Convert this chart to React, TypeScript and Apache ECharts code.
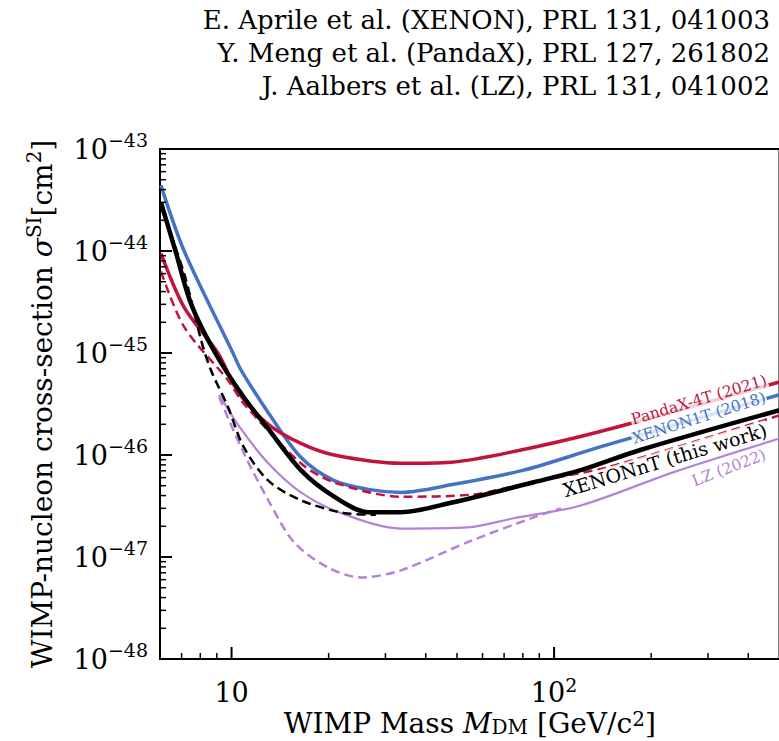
import React, { useEffect, useRef } from 'react';
import * as echarts from 'echarts';

// y values are plotted in units of 1e-46 cm^2 (log axis), labels convert back
const UNIT = 1e-46;
const UNIT_EXP = -46;

const X_MIN = 6;
const X_MAX = 500;
const Y_MIN = 1e-48;
const Y_MAX = 1e-43;

// XENONnT (this work) – black solid
const xenonntMass = [6.04, 6.7, 7.5, 8.9, 10.9, 13.0, 16.4, 20.8, 26.5, 33.5, 47.9, 86.5, 121, 185, 500];
const xenonntSigma = [3.0e-44, 1.0e-44, 3.0e-45, 1.0e-45, 3.7e-46, 1.8e-46, 7.1e-47, 3.9e-47, 2.75e-47, 2.75e-47, 3.4e-47, 5.4e-47, 7.1e-47, 1.12e-46, 2.75e-46];

// XENONnT sensitivity – black dashed
const xenonntDashMass = [6.04, 7.13, 8.04, 8.63, 9.75, 10.9, 13.0, 16.4, 22.3, 28];
const xenonntDashSigma = [2.7e-44, 6.0e-45, 1.35e-45, 6.8e-46, 2.95e-46, 1.2e-46, 5.6e-47, 3.6e-47, 2.7e-47, 2.6e-47];

// XENON1T (2018) – blue
const xenon1tMass = [6.04, 7.13, 10.1, 10.7, 13.0, 16.4, 20.8, 26.5, 33.5, 47.9, 80.5, 139, 500];
const xenon1tSigma = [4.4e-44, 1.0e-44, 1.0e-45, 6.8e-46, 2.6e-46, 9.5e-47, 5.6e-47, 4.6e-47, 4.3e-47, 5.1e-47, 7.1e-47, 1.2e-46, 3.9e-46];

// PandaX-4T (2021) – red solid
const pandaxMass = [6.04, 7.13, 9.07, 10.5, 13.0, 16.4, 20.8, 33.5, 47.9, 71.8, 139, 500];
const pandaxSigma = [9.5e-45, 2.8e-45, 1.0e-45, 4.1e-46, 2.0e-46, 1.3e-46, 1.0e-46, 8.3e-47, 8.5e-47, 1.05e-46, 1.7e-46, 5.2e-46];

// red dashed
const pandaxDashMass = [6.04, 7.13, 9.75, 10.9, 16.4, 20.8, 33.5, 56, 86.5, 147, 500];
const pandaxDashSigma = [6.3e-45, 1.8e-45, 5.4e-46, 3.2e-46, 8.3e-47, 5.4e-47, 3.9e-47, 4.1e-47, 5.5e-47, 7.6e-47, 2.45e-46];

// LZ (2022) – purple solid
const lzMass = [9.15, 10.7, 13.0, 16.4, 21.8, 33.5, 54, 75, 121, 235, 500];
const lzSigma = [3.9e-46, 1.8e-46, 8.3e-47, 4.3e-47, 2.7e-47, 1.9e-47, 1.95e-47, 2.4e-47, 3.2e-47, 6.8e-47, 1.45e-46];

// LZ – purple dashed
const lzDashMass = [9.15, 10.9, 13.0, 15.6, 19.9, 25.2, 33.5, 54, 86.5, 105];
const lzDashSigma = [3.7e-46, 1.05e-46, 3.6e-47, 1.4e-47, 7.9e-48, 6.3e-48, 7.4e-48, 1.4e-47, 2.45e-47, 3.0e-47];

const xMajorTicks = [10, 100];
const xMinorTicks = [7, 8, 9, 20, 30, 40, 50, 60, 70, 80, 90, 200, 300, 400];
const yDecades = [-48, -47, -46, -45, -44, -43];

const headerLines = [
  'E. Aprile et al. (XENON), PRL 131, 041003',
  'Y. Meng et al. (PandaX), PRL 127, 261802',
  'J. Aalbers et al. (LZ), PRL 131, 041002',
];

const RED = '#C0143F';
const BLUE = '#4472C4';
const PURPLE = '#B482D8';
const BLACK = '#000000';
const FONT = 'DejaVu Serif';

const toSeries = (m: number[], s: number[]) => m.map((v, i) => [v, s[i] / UNIT]);

export default function App() {
  const ref = useRef<HTMLDivElement>(null);
  useEffect(() => {
    if (!ref.current) return;
    const chart = echarts.init(ref.current, undefined, { renderer: 'svg' });

    const xTickData = [
      ...xMajorTicks.map((v) => [v, Y_MIN / UNIT, 1]),
      ...xMinorTicks.map((v) => [v, Y_MIN / UNIT, 0]),
    ];
    const yTickData: number[][] = [];
    yDecades.forEach((d) => {
      for (let k = 1; k <= 9; k++) {
        const v = k * Math.pow(10, d);
        if (v > Y_MAX * 1.0001) break;
        yTickData.push([X_MIN, v / UNIT, k === 1 ? 1 : 0]);
      }
    });

    const line = (name: string, data: number[][], color: string, width: number, dashed: boolean, z: number) => ({
      type: 'line',
      name,
      data,
      showSymbol: false,
      symbol: 'none',
      smooth: 0.3,
      clip: true,
      z,
      silent: true,
      lineStyle: {
        color,
        width,
        type: dashed ? [9, 5] : 'solid',
        cap: 'butt',
      },
    });

    const annot = (text: string, x: number, y: number, deg: number, color: string, size: number) => ({
      type: 'text',
      x,
      y,
      rotation: (deg * Math.PI) / 180,
      z: 100,
      silent: true,
      style: {
        text,
        fill: color,
        fontSize: size,
        fontFamily: FONT,
        align: 'center',
        verticalAlign: 'middle',
        backgroundColor: 'rgba(255,255,255,0.8)',
        padding: [0, 1],
      },
    });

    const option: any = {
      animation: false,
      backgroundColor: '#fff',
      grid: {
        left: 160,
        top: 149,
        right: -0.5,
        bottom: 82,
        show: true,
        borderColor: '#000',
        borderWidth: 2,
        backgroundColor: 'transparent',
        containLabel: false,
        outerBoundsMode: 'none',
      },
      xAxis: {
        type: 'log',
        logBase: 10,
        min: X_MIN,
        max: X_MAX,
        axisLine: { show: false },
        axisTick: { show: false },
        splitLine: { show: false },
        axisLabel: {
          margin: 16,
          color: '#000',
          fontFamily: FONT,
          formatter: (v: number) => {
            const e = Math.log10(v);
            if (Math.abs(e - Math.round(e)) > 1e-6) return '';
            const n = Math.round(e);
            if (n === 1) return '{b|10}';
            return `{b|10}{s|${n}}`;
          },
          rich: {
            b: { fontSize: 27, fontFamily: FONT, color: '#000', lineHeight: 34 },
            s: { fontSize: 19, fontFamily: FONT, color: '#000', lineHeight: 19, verticalAlign: 'top' },
          },
        },
        name: '{t|WIMP Mass }{i|M}{d|DM}{t| [GeV/c}{s|2}{t|]}',
        nameLocation: 'middle',
        nameGap: 50,
        nameMoveOverlap: false,
        nameTextStyle: {
          verticalAlign: 'top',
          rich: {
            t: { fontSize: 28, fontFamily: FONT, color: '#000', lineHeight: 28 },
            i: { fontSize: 28, fontFamily: FONT, fontStyle: 'italic', color: '#000', lineHeight: 28 },
            d: { fontSize: 20, fontFamily: FONT, color: '#000', lineHeight: 20, verticalAlign: 'bottom' },
            s: { fontSize: 20, fontFamily: FONT, color: '#000', lineHeight: 20, verticalAlign: 'top' },
          },
        },
      },
      yAxis: {
        type: 'log',
        logBase: 10,
        min: Y_MIN / UNIT,
        max: Y_MAX / UNIT,
        axisLine: { show: false },
        axisTick: { show: false },
        splitLine: { show: false },
        axisLabel: {
          margin: 12,
          color: '#000',
          fontFamily: FONT,
          formatter: (v: number) => {
            const e = Math.round(Math.log10(v)) + UNIT_EXP;
            return `{b|10}{s|\u2212${-e}}`;
          },
          rich: {
            b: { fontSize: 27, fontFamily: FONT, color: '#000', lineHeight: 38 },
            s: { fontSize: 19, fontFamily: FONT, color: '#000', lineHeight: 19, verticalAlign: 'top' },
          },
        },
        name: '{t|WIMP-nucleon cross-section }{i|\u03c3}{s|SI}{t|[cm}{s|2}{t|]}',
        nameLocation: 'middle',
        nameRotate: 90,
        nameGap: 100,
        nameMoveOverlap: false,
        nameTextStyle: {
          rich: {
            t: { fontSize: 28, fontFamily: FONT, color: '#000', lineHeight: 36 },
            i: { fontSize: 28, fontFamily: FONT, fontStyle: 'italic', color: '#000', lineHeight: 36 },
            s: { fontSize: 20, fontFamily: FONT, color: '#000', lineHeight: 20, verticalAlign: 'top' },
          },
        },
      },
      series: [
        line('LZ (2022)', toSeries(lzMass, lzSigma), PURPLE, 2.2, false, 2),
        line('LZ dashed', toSeries(lzDashMass, lzDashSigma), PURPLE, 2.5, true, 2),
        line('XENON1T (2018)', toSeries(xenon1tMass, xenon1tSigma), BLUE, 3.5, false, 3),
        line('PandaX-4T (2021)', toSeries(pandaxMass, pandaxSigma), RED, 3.5, false, 3),
        line('PandaX-4T dashed', toSeries(pandaxDashMass, pandaxDashSigma), RED, 2.5, true, 4),
        line('XENONnT dashed', toSeries(xenonntDashMass, xenonntDashSigma), BLACK, 2.5, true, 4),
        line('XENONnT (this work)', toSeries(xenonntMass, xenonntSigma), BLACK, 4.5, false, 5),
        {
          type: 'custom',
          silent: true,
          z: 10,
          data: xTickData,
          renderItem: (params: any, api: any) => {
            const p = api.coord([api.value(0), api.value(1)]);
            const major = api.value(2) === 1;
            const len = major ? 12 : 6;
            return {
              type: 'line',
              shape: { x1: p[0], y1: p[1], x2: p[0], y2: p[1] - len },
              style: { stroke: '#000', lineWidth: major ? 2 : 1.5 },
            };
          },
        },
        {
          type: 'custom',
          silent: true,
          z: 10,
          data: yTickData,
          renderItem: (params: any, api: any) => {
            const p = api.coord([api.value(0), api.value(1)]);
            const major = api.value(2) === 1;
            const len = major ? 12 : 6;
            return {
              type: 'line',
              shape: { x1: p[0], y1: p[1], x2: p[0] + len, y2: p[1] },
              style: { stroke: '#000', lineWidth: major ? 2 : 1.5 },
            };
          },
        },
      ],
      graphic: [
        ...headerLines.map((t, i) => ({
          type: 'text',
          x: 770,
          y: 20 + i * 33,
          z: 100,
          silent: true,
          style: {
            text: t,
            fill: '#000',
            fontSize: 26,
            fontFamily: FONT,
            align: 'right',
            verticalAlign: 'middle',
          },
        })),
        annot('PandaX-4T (2021)', 699, 400, 16.5, RED, 15.5),
        annot('XENON1T (2018)', 699, 418, 17.5, BLUE, 15.5),
        annot('XENONnT (this work)', 665, 460, 16.8, BLACK, 19),
        annot('LZ (2022)', 729, 468, 21, PURPLE, 15.5),
      ],
    };

    chart.setOption(option);
    return () => chart.dispose();
  }, []);

  return (
    <div
      ref={ref}
      style={{ position: 'fixed', left: 0, top: 0, width: 779, height: 741, background: '#fff' }}
    />
  );
}
